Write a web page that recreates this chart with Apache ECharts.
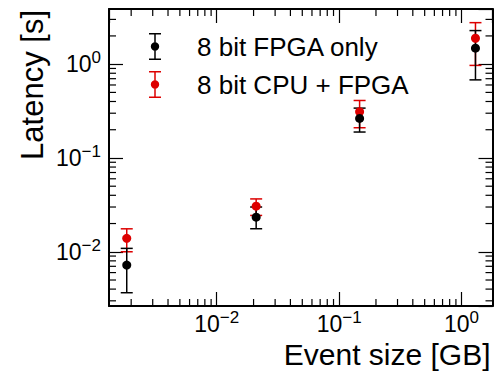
<!DOCTYPE html>
<html><head><meta charset="utf-8">
<script src="https://cdn.jsdelivr.net/npm/echarts@6/dist/echarts.min.js"></script>
<style>html,body{margin:0;padding:0;background:#fff}#c{width:495px;height:372px}</style>
</head><body><div id="c"></div>
<script>
// ---- data ----
const eventSize    = [0.00184, 0.0210, 0.147, 1.30];
const fpgaOnly     = [0.00722, 0.0234, 0.264, 1.48];
const fpgaOnlyLow  = [0.00366, 0.0176, 0.189, 0.68];
const fpgaOnlyHigh = [0.01087, 0.0300, 0.340, 2.28];
const cpuFpga      = [0.0139, 0.0306, 0.311, 1.89];
const cpuFpgaLow   = [0.0100, 0.0244, 0.210, 0.97];
const cpuFpgaHigh  = [0.01757, 0.0366, 0.410, 2.77];
const seriesNames  = ['8 bit FPGA only', '8 bit CPU + FPGA'];
const xTickExponents = [-2, -1, 0];
const yTickExponents = [-2, -1, 0];
const xMinorTicks = [0.002,0.003,0.004,0.005,0.006,0.007,0.008,0.009,
                     0.02,0.03,0.04,0.05,0.06,0.07,0.08,0.09,
                     0.2,0.3,0.4,0.5,0.6,0.7,0.8,0.9];
const yMinorTicks = [0.003,0.004,0.005,0.006,0.007,0.008,0.009,
                     0.02,0.03,0.04,0.05,0.06,0.07,0.08,0.09,
                     0.2,0.3,0.4,0.5,0.6,0.7,0.8,0.9, 2, 3];
const xRange = [0.001318, 1.791];
const yRange = [0.002642, 3.873];
const axisTitles = {x: 'Event size [GB]', y: 'Latency [s]'};

// ---- styling ----
const FONT = '"Liberation Sans", Arial, Helvetica, sans-serif';
const BLACK = '#000000';
const RED = '#dd0000';

function expLabel(list) {
  return function (v) {
    const e = Math.log10(v);
    const r = Math.round(e);
    if (Math.abs(e - r) > 1e-6 || list.indexOf(r) < 0) return '';
    const s = r < 0 ? '\u2212' + (-r) : String(r);
    return '{b|10}{s|' + s + '}';
  };
}
const richLbl = {
  b: {fontSize: 23, fontFamily: FONT, color: '#000', lineHeight: 30},
  s: {fontSize: 17, fontFamily: FONT, color: '#000', lineHeight: 17, verticalAlign: 'top'}
};

function logAxis(range, pos, labels, labelList, margin) {
  return {
    type: 'log', logBase: 10, min: range[0], max: range[1], position: pos,
    axisLine: {show: true, onZero: false, lineStyle: {color: BLACK, width: 2}},
    axisTick: {show: true, inside: true, length: 14, lineStyle: {color: BLACK, width: 1.2}},
    minorTick: {show: false},
    splitLine: {show: false},
    axisLabel: labels ? {
      show: true, showMinLabel: false, showMaxLabel: false, margin: margin,
      formatter: expLabel(labelList), rich: richLbl
    } : {show: false}
  };
}

const xBottom = logAxis(xRange, 'bottom', true, xTickExponents, 3);
xBottom.name = axisTitles.x;
xBottom.nameLocation = 'end';
xBottom.nameGap = -2;
xBottom.nameTextStyle = {fontSize: 30, fontFamily: FONT, color: '#000', align: 'right', verticalAlign: 'top', padding: [33, 0, 0, 0]};

const yLeft = logAxis(yRange, 'left', true, yTickExponents, 8);
yLeft.name = axisTitles.y;
yLeft.nameLocation = 'end';
yLeft.nameRotate = 90;
yLeft.nameGap = -1;
yLeft.nameTextStyle = {fontSize: 31, fontFamily: FONT, color: '#000', align: 'right', verticalAlign: 'bottom', padding: [0, 0, 61, 0]};

function errorBars(low, high, color) {
  return {
    type: 'custom', silent: true, clip: false, xAxisIndex: 0, yAxisIndex: 0,
    encode: {x: 0, y: [1, 2]},
    data: eventSize.map((x, i) => [x, low[i], high[i]]),
    renderItem: function (params, api) {
      const x = api.value(0);
      const t = api.coord([x, api.value(2)]);
      const b = api.coord([x, api.value(1)]);
      const st = {stroke: color, lineWidth: 1.5};
      const w = 6;
      return {type: 'group', children: [
        {type: 'line', shape: {x1: t[0], y1: t[1], x2: b[0], y2: b[1]}, style: st},
        {type: 'line', shape: {x1: t[0] - w, y1: t[1], x2: t[0] + w, y2: t[1]}, style: st},
        {type: 'line', shape: {x1: b[0] - w, y1: b[1], x2: b[0] + w, y2: b[1]}, style: st}
      ]};
    }
  };
}

const minorStyle = {stroke: BLACK, lineWidth: 1.2};
const minorLen = 7;
const xMinorSeries = {
  type: 'custom', silent: true, clip: false, xAxisIndex: 0, yAxisIndex: 0,
  encode: {x: 0, y: 1},
  data: xMinorTicks.map(v => [v, 1]),
  renderItem: function (params, api) {
    const cs = params.coordSys;
    const px = api.coord([api.value(0), 1])[0];
    const yb = cs.y + cs.height, yt = cs.y;
    return {type: 'group', children: [
      {type: 'line', shape: {x1: px, y1: yb, x2: px, y2: yb - minorLen}, style: minorStyle},
      {type: 'line', shape: {x1: px, y1: yt, x2: px, y2: yt + minorLen}, style: minorStyle}
    ]};
  }
};
const yMinorSeries = {
  type: 'custom', silent: true, clip: false, xAxisIndex: 0, yAxisIndex: 0,
  encode: {x: 0, y: 1},
  data: yMinorTicks.map(v => [0.01, v]),
  renderItem: function (params, api) {
    const cs = params.coordSys;
    const py = api.coord([0.01, api.value(1)])[1];
    const xl = cs.x, xr = cs.x + cs.width;
    return {type: 'group', children: [
      {type: 'line', shape: {x1: xl, y1: py, x2: xl + minorLen, y2: py}, style: minorStyle},
      {type: 'line', shape: {x1: xr, y1: py, x2: xr - minorLen, y2: py}, style: minorStyle}
    ]};
  }
};

// legend icon: error bar with caps + dot (box 12 x 27)
const legendIcon = 'path://M0,0H12V1.5H0Z M0,25.5H12V27H0Z M5.25,0H6.75V27H5.25Z ' +
  'M1.8,13.5A4.2,4.2 0 1,1 10.2,13.5A4.2,4.2 0 1,1 1.8,13.5Z';

const chart = echarts.init(document.getElementById('c'), null, {renderer: 'svg'});
chart.setOption({
  animation: false,
  backgroundColor: '#fff',
  textStyle: {fontFamily: FONT},
  grid: {left: 109, right: 2.5, top: 9, bottom: 66, containLabel: false, outerBoundsMode: 'none'},
  legend: {
    orient: 'vertical', left: 149, top: 33, padding: 0,
    itemWidth: 12, itemHeight: 27, itemGap: 11,
    selectedMode: false,
    textStyle: {fontSize: 26, fontFamily: FONT, color: '#000', padding: [0, 0, 0, 31]},
    data: [{name: seriesNames[0], icon: legendIcon}, {name: seriesNames[1], icon: legendIcon}]
  },
  xAxis: [xBottom, logAxis(xRange, 'top', false)],
  yAxis: [yLeft, logAxis(yRange, 'right', false)],
  series: [
    xMinorSeries, yMinorSeries,
    errorBars(cpuFpgaLow, cpuFpgaHigh, RED),
    {type: 'scatter', name: seriesNames[1], xAxisIndex: 0, yAxisIndex: 0, symbol: 'circle', symbolSize: 9,
     itemStyle: {color: RED, opacity: 1}, data: eventSize.map((x, i) => [x, cpuFpga[i]])},
    errorBars(fpgaOnlyLow, fpgaOnlyHigh, BLACK),
    {type: 'scatter', name: seriesNames[0], xAxisIndex: 0, yAxisIndex: 0, symbol: 'circle', symbolSize: 9,
     itemStyle: {color: BLACK, opacity: 1}, data: eventSize.map((x, i) => [x, fpgaOnly[i]])}
  ]
});
</script>
</body></html>
